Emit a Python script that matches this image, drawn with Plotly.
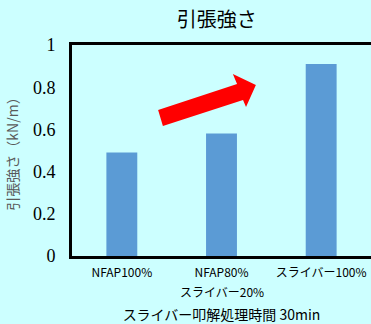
import plotly.graph_objects as go

categories = ["NFAP100%", "NFAP80%", "スライバー100%"]
second_line = ["", "スライバー20%", ""]
values = [0.49, 0.58, 0.91]
y_ticks = [0, 0.2, 0.4, 0.6, 0.8, 1]
y_tick_labels = ["0", "0.2", "0.4", "0.6", "0.8", "1"]

JP = "Noto Sans CJK JP"
SERIF = "Liberation Serif"
BG = "#CCFFFF"

fig = go.Figure()
fig.add_trace(go.Bar(x=categories, y=values, marker_color="#5B9BD5",
                     marker_line_width=0, width=0.31))

# second line of tick labels
for c, t in zip(categories, second_line):
    if t:
        fig.add_annotation(x=c, xref="x", y=0, yref="paper", yanchor="top",
                           yshift=-25, text=t, showarrow=False,
                           font=dict(family=JP, size=12, color="#000000"))

# red thick arrow (paper coords)
fig.add_shape(type="path", xref="paper", yref="paper",
              path=("M 0.288 0.692 L 0.552 0.815 L 0.538 0.863 L 0.615 0.810 "
                    "L 0.582 0.706 L 0.572 0.739 L 0.304 0.616 Z"),
              fillcolor="#FF0000", line_width=0, layer="above")

fig.update_layout(
    width=371, height=324,
    margin=dict(l=72, r=0, t=45, b=68),
    paper_bgcolor=BG, plot_bgcolor=BG,
    showlegend=False,
    font=dict(family=JP),
    title=dict(text="引張強さ", font=dict(family=JP, size=20, color="#000000"),
               x=0.484, xref="paper", xanchor="center", y=0.938, yanchor="middle"),
    bargap=0.69,
    xaxis=dict(showline=True, linecolor="#000000", linewidth=3, mirror=True,
               showgrid=False, ticks="", tickfont=dict(family=JP, size=12, color="#000000"),
               title=dict(text="スライバー叩解処理時間 30min",
                          font=dict(family=JP, size=14, color="#000000"), standoff=32),
               ticklabelstandoff=4,
               fixedrange=True),
    yaxis=dict(range=[0, 1], tickvals=y_ticks,
               ticktext=[f"<span style='font-family:\"{SERIF}\",serif'>{t}</span>" for t in y_tick_labels],
               showline=True, linecolor="#000000", linewidth=3, mirror=False,
               showgrid=False, zeroline=False, ticks="",
               tickfont=dict(family=SERIF, size=18, color="#000000"),
               ticklabelstandoff=10,
               title=dict(text="引張強さ（kN/m）",
                          font=dict(family=JP, size=14, color="#595959"), standoff=12),
               fixedrange=True),
)

fig.write_html("out.html")
